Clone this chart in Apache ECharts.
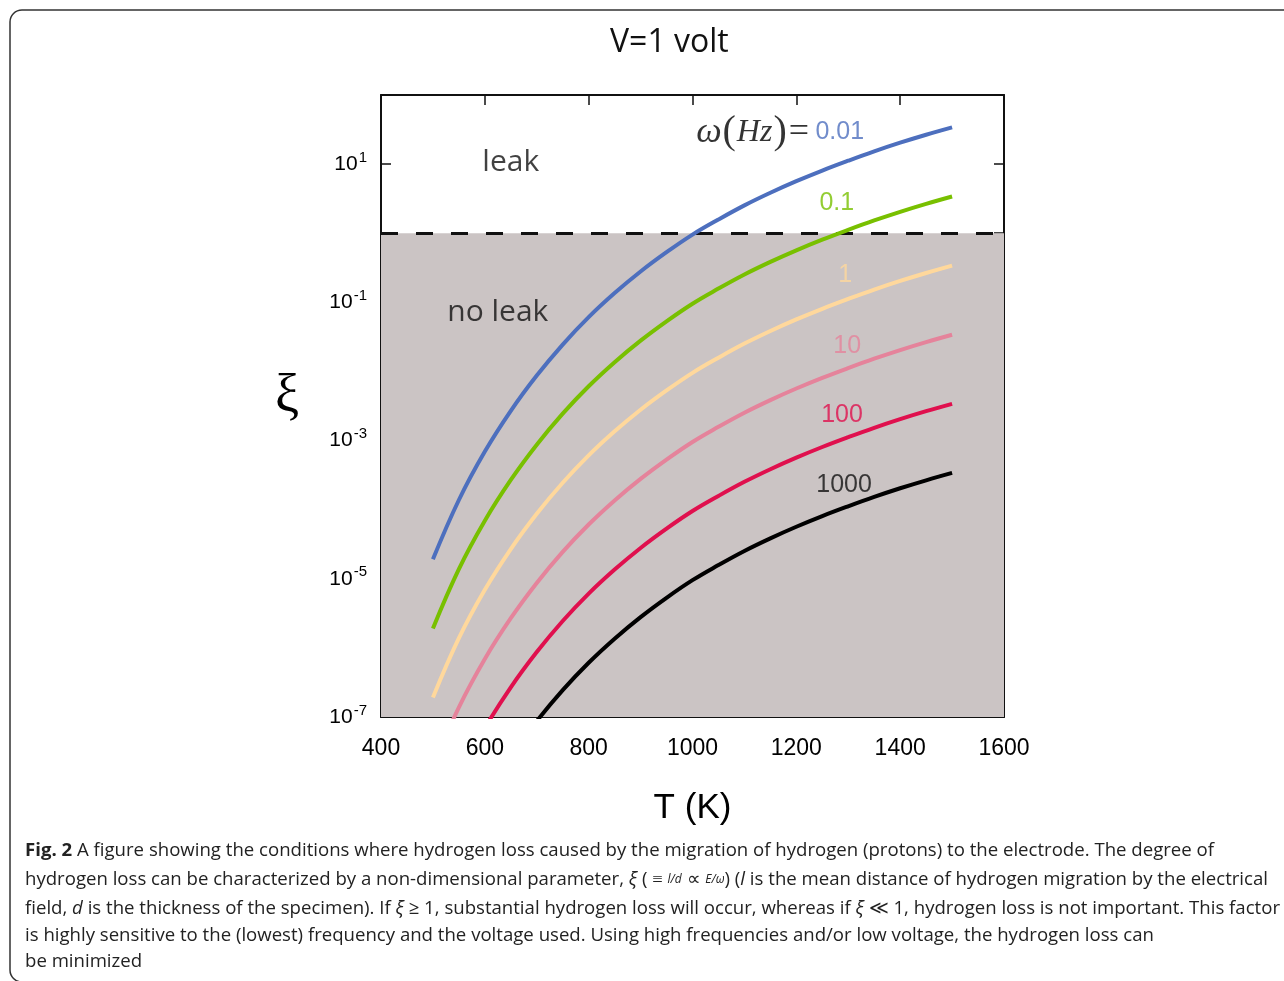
<!DOCTYPE html>
<html><head><meta charset="utf-8">
<script src="https://cdn.jsdelivr.net/npm/echarts@6/dist/echarts.min.js"></script>
<style>html,body{margin:0;padding:0;background:#fff}#c{width:1284px;height:981px}</style>
</head><body><div id="c"></div>
<script>
// Temperature (K)
const temperatures = [500,550,600,650,700,750,800,850,900,950,1000,1050,1100,1150,1200,1250,1300,1350,1400,1450,1500];
// xi values, one array per frequency omega (Hz)
const xi_w0_01 = [1.91e-5,1.38e-4,6.92e-4,2.69e-3,8.71e-3,2.45e-2,6.10e-2,0.136,0.279,0.531,0.955,1.58,2.53,3.85,5.66,8.07,11.2,15.3,20.4,26.6,34.0];
const xi_w0_1  = [1.91e-6,1.38e-5,6.92e-5,2.69e-4,8.71e-4,2.45e-3,6.10e-3,0.0136,0.0279,0.0531,0.0955,0.158,0.253,0.385,0.566,0.807,1.12,1.53,2.04,2.66,3.40];
const xi_w1    = [1.91e-7,1.38e-6,6.92e-6,2.69e-5,8.71e-5,2.45e-4,6.10e-4,1.36e-3,2.79e-3,5.31e-3,9.55e-3,0.0158,0.0253,0.0385,0.0566,0.0807,0.112,0.153,0.204,0.266,0.340];
const xi_w10   = [1.91e-8,1.38e-7,6.92e-7,2.69e-6,8.71e-6,2.45e-5,6.10e-5,1.36e-4,2.79e-4,5.31e-4,9.55e-4,1.58e-3,2.53e-3,3.85e-3,5.66e-3,8.07e-3,0.0112,0.0153,0.0204,0.0266,0.0340];
const xi_w100  = [1.91e-9,1.38e-8,6.92e-8,2.69e-7,8.71e-7,2.45e-6,6.10e-6,1.36e-5,2.79e-5,5.31e-5,9.55e-5,1.58e-4,2.53e-4,3.85e-4,5.66e-4,8.07e-4,1.12e-3,1.53e-3,2.04e-3,2.66e-3,3.40e-3];
const xi_w1000 = [1.91e-10,1.38e-9,6.92e-9,2.69e-8,8.71e-8,2.45e-7,6.10e-7,1.36e-6,2.79e-6,5.31e-6,9.55e-6,1.58e-5,2.53e-5,3.85e-5,5.66e-5,8.07e-5,1.12e-4,1.53e-4,2.04e-4,2.66e-4,3.40e-4];
const omegaLabels = ['0.01','0.1','1','10','100','1000'];
const leakThreshold = 1;
const xTicks = [400,1600,200];
const yRange = [1e-7,100];

const colors = ['#4d6fbe','#78c000','#ffd89c','#e5839b','#e0104e','#000000'];
const seriesData = [xi_w0_01,xi_w0_1,xi_w1,xi_w10,xi_w100,xi_w1000];

const chart = echarts.init(document.getElementById('c'));
const pair = arr => temperatures.map((t,i)=>[t,arr[i]]);

const lineSeries = seriesData.map((arr,k)=>({
  type:'line', name:'ω='+omegaLabels[k], data:pair(arr), showSymbol:false, symbol:'none',
  smooth:0.4, clip:true, z:5,
  lineStyle:{color:colors[k], width:4, cap:'butt'}
}));

const sansTxt = 'Liberation Sans';
const annot = [
  {value:[1007,29], label:{align:'left', formatter:'{w|ω}{p|(}{h|Hz}{p|)}{e|=} {b|0.01}'}},
  {value:[1278,2.7], label:{formatter:'{g|0.1}'}},
  {value:[1294,0.25], label:{formatter:'{o|1}'}},
  {value:[1298,0.023], label:{formatter:'{k|10}'}},
  {value:[1288,0.0023], label:{formatter:'{r|100}'}},
  {value:[1292,0.00023], label:{formatter:'{z|1000}'}},
  {value:[650,10.7], label:{formatter:'{t|leak}'}},
  {value:[625,0.072], label:{formatter:'{t|no leak}'}}
];

const capFont = '18.6px "Open Sans"';
const capItal = 'italic 18.6px "Open Sans"';

chart.setOption({
  animation:false,
  backgroundColor:'#fff',
  title:{text:'V=1 volt', left:605, top:22,
    textStyle:{fontFamily:'Open Sans', fontSize:32, fontWeight:'normal', color:'#111'}},
  grid:{left:381, right:280, top:95, bottom:264, containLabel:false},
  xAxis:[{
    type:'value', min:xTicks[0], max:xTicks[1], interval:xTicks[2], position:'bottom',
    axisLine:{show:true, onZero:false, lineStyle:{color:'#111', width:2}},
    axisTick:{show:true, inside:true, length:10, lineStyle:{color:'#111', width:1.5}},
    axisLabel:{color:'#000', fontSize:23, fontFamily:sansTxt, margin:20, formatter:v=>String(v)},
    splitLine:{show:false},
    name:'T (K)', nameLocation:'middle', nameGap:74,
    nameTextStyle:{fontSize:35, fontFamily:sansTxt, color:'#000'}
  },{
    type:'value', min:xTicks[0], max:xTicks[1], interval:xTicks[2], position:'top',
    axisLine:{show:true, onZero:false, lineStyle:{color:'#111', width:2}},
    axisTick:{show:true, inside:true, length:10, lineStyle:{color:'#111', width:1.5}},
    axisLabel:{show:false}, splitLine:{show:false}
  }],
  yAxis:[{
    type:'log', logBase:10, min:yRange[0], max:yRange[1], position:'left',
    axisLine:{show:true, onZero:false, lineStyle:{color:'#111', width:2}},
    axisTick:{show:true, inside:true, length:10, lineStyle:{color:'#111', width:1.5}},
    splitLine:{show:false},
    axisLabel:{margin:14, color:'#000',
      formatter:function(v){const e=Math.round(Math.log10(v)); if(e%2===0) return ''; return '{b|10}{s|'+e+'}';},
      rich:{b:{fontSize:21, fontFamily:sansTxt, color:'#000'},
            s:{fontSize:15, fontFamily:sansTxt, color:'#000', padding:[0,0,13,1]}}}
  },{
    type:'log', logBase:10, min:yRange[0], max:yRange[1], position:'right',
    axisLine:{show:true, onZero:false, lineStyle:{color:'#111', width:2}},
    axisTick:{show:true, inside:true, length:10, lineStyle:{color:'#111', width:1.5}},
    splitLine:{show:false}, axisLabel:{show:false}
  }],
  graphic:[
    {type:'rect', shape:{x:10, y:10, width:1300, height:972, r:12}, style:{fill:'none', stroke:'#333', lineWidth:1.5}, z:-1},
    {type:'text', x:287, y:398, style:{text:'ξ', font:'54px "Liberation Serif"', fill:'#000', textAlign:'center', textVerticalAlign:'middle'}},
    {type:'text', x:25, y:851, style:{text:'{b|Fig. 2} A figure showing the conditions where hydrogen loss caused by the migration of hydrogen (protons) to the electrode. The degree of',
      font:capFont, fill:'#222', textVerticalAlign:'middle', rich:{b:{font:'bold 18.6px "Open Sans"', fill:'#222'}}}},
    {type:'text', x:25, y:880, style:{text:'hydrogen loss can be characterized by a non-dimensional parameter, {i|ξ} ( ≡ {f|l/d} ∝ {f|E/ω}) ({i|l} is the mean distance of hydrogen migration by the electrical',
      font:capFont, fill:'#222', textVerticalAlign:'middle', rich:{i:{font:capItal, fill:'#222'}, f:{font:'italic 12px "Open Sans"', fill:'#222'}}}},
    {type:'text', x:25, y:909, style:{text:'field, {i|d} is the thickness of the specimen). If {i|ξ} ≥ 1, substantial hydrogen loss will occur, whereas if {i|ξ} ≪ 1, hydrogen loss is not important. This factor',
      font:capFont, fill:'#222', textVerticalAlign:'middle', rich:{i:{font:capItal, fill:'#222'}}}},
    {type:'text', x:25, y:936, style:{text:'is highly sensitive to the (lowest) frequency and the voltage used. Using high frequencies and/or low voltage, the hydrogen loss can',
      font:capFont, fill:'#222', textVerticalAlign:'middle'}},
    {type:'text', x:25, y:962, style:{text:'be minimized',
      font:capFont, fill:'#222', textVerticalAlign:'middle'}}
  ],
  series:[
    {type:'line', data:[], z:1, silent:true,
      markArea:{silent:true, itemStyle:{color:'#cbc4c4'}, data:[[{yAxis:yRange[0]},{yAxis:leakThreshold}]]},
      markLine:{silent:true, symbol:'none', label:{show:false},
        lineStyle:{color:'#111', width:3, type:[17,18]}, data:[{yAxis:leakThreshold}]}
    },
    ...lineSeries,
    {type:'scatter', data:annot, symbolSize:1, itemStyle:{color:'rgba(0,0,0,0)'}, silent:true, z:10,
      label:{show:true, position:'inside', verticalAlign:'middle',
        rich:{
          w:{fontFamily:'Liberation Serif', fontStyle:'italic', fontSize:36, color:'#000'},
          p:{fontFamily:'Liberation Serif', fontSize:40, color:'#000', padding:[0,1,0,1]},
          h:{fontFamily:'Liberation Serif', fontStyle:'italic', fontSize:32, color:'#000'},
          e:{fontFamily:'Liberation Serif', fontSize:36, color:'#000', padding:[0,3,0,1]},
          b:{fontFamily:sansTxt, fontSize:25, color:colors[0]},
          g:{fontFamily:sansTxt, fontSize:25, color:colors[1]},
          o:{fontFamily:sansTxt, fontSize:25, color:colors[2]},
          k:{fontFamily:sansTxt, fontSize:25, color:colors[3]},
          r:{fontFamily:sansTxt, fontSize:25, color:colors[4]},
          z:{fontFamily:sansTxt, fontSize:25, color:'#111'},
          t:{fontFamily:'Open Sans', fontSize:30, color:'#111'}
        }}}
  ]
});
</script></body></html>
